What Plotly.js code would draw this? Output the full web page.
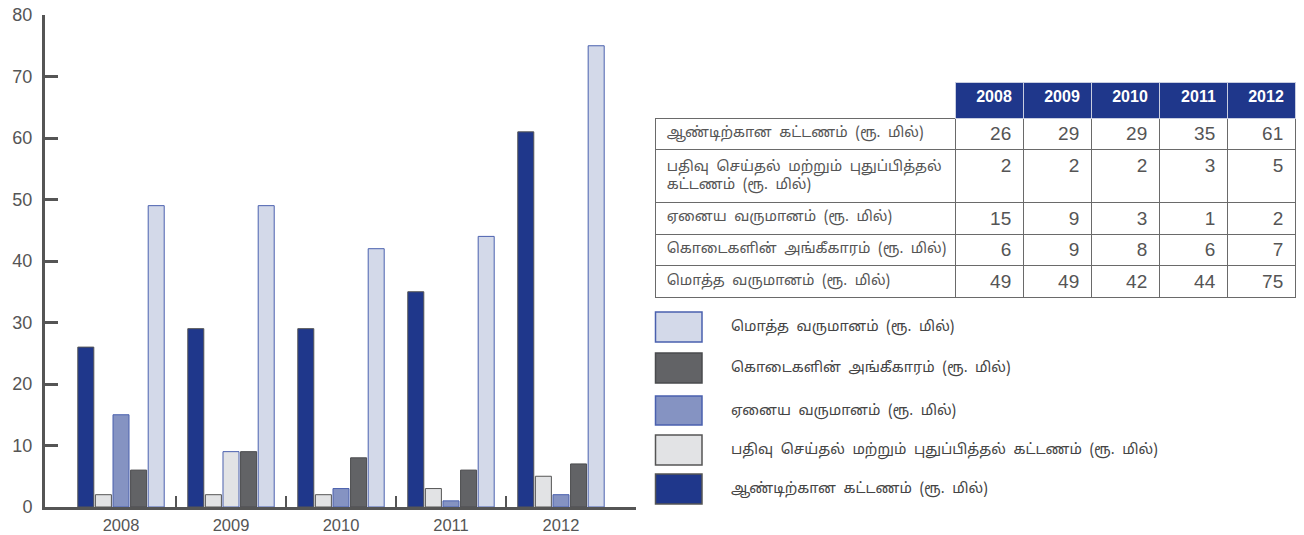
<!DOCTYPE html>
<html>
<head>
<meta charset="utf-8">
<script src="https://cdn.plot.ly/plotly-3.0.1.min.js"></script>
<style>html,body{margin:0;padding:0;background:#fff;}#chart{width:1304px;height:535px;}</style>
</head>
<body>
<div id="chart"></div>
<script>
// ---- data ----
var years = ['2008', '2009', '2010', '2011', '2012'];
var annualFee = [26, 29, 29, 35, 61];
var registrationFee = [2, 2, 2, 3, 5];
var otherIncome = [15, 9, 3, 1, 2];
var grants = [6, 9, 8, 6, 7];
var totalIncome = [49, 49, 42, 44, 75];
var seriesNames = [
  'ஆண்டிற்கான கட்டணம் (ரூ. மில்)',
  'பதிவு செய்தல் மற்றும் புதுப்பித்தல் கட்டணம் (ரூ. மில்)',
  'ஏனைய வருமானம் (ரூ. மில்)',
  'கொடைகளின் அங்கீகாரம் (ரூ. மில்)',
  'மொத்த வருமானம் (ரூ. மில்)'
];
var tableLabels = [
  'ஆண்டிற்கான கட்டணம் (ரூ. மில்)',
  'பதிவு செய்தல் மற்றும் புதுப்பித்தல்<br>கட்டணம் (ரூ. மில்)',
  'ஏனைய வருமானம் (ரூ. மில்)',
  'கொடைகளின் அங்கீகாரம் (ரூ. மில்)',
  'மொத்த வருமானம் (ரூ. மில்)'
];

// ---- styles ----
var NAVY = '#1f378b', LGREY = '#e2e3e5', MBLUE = '#8593c2', DGREY = '#626366', LAV = '#d3d9e9';
var BLUE_LINE = '#4a60ae', GREY_LINE = '#555555', DARK_LINE = '#4a4b4e';
var TAMIL = '"Noto Sans Tamil", "Noto Sans", "DejaVu Sans", sans-serif';
var NUMF = '"Liberation Sans", Arial, sans-serif';

var W = 1304, H = 535;
var M = {l: 45, r: 9, t: 15, b: 28};
var PW = W - M.l - M.r, PH = H - M.t - M.b;
function px(x) { return (x - M.l) / PW; }
function py(y) { return (H - M.b - y) / PH; }
// wider word spacing as in the source typesetting
function wide(s) { return s.split(' ').join('\u00a0\u00a0'); }

var xIdx = years.map(function (_, i) { return i; });
var seriesData = [annualFee, registrationFee, otherIncome, grants, totalIncome];
var fills = [NAVY, LGREY, MBLUE, DGREY, LAV];
var lines = [GREY_LINE, GREY_LINE, BLUE_LINE, DARK_LINE, BLUE_LINE];
// the 2009 "other income" bar is drawn in light grey in the source
var otherFill = years.map(function (y) { return y === '2009' ? LGREY : MBLUE; });

var traces = seriesData.map(function (vals, k) {
  return {
    type: 'bar', x: xIdx, y: vals, name: seriesNames[k], showlegend: false,
    marker: {color: k === 2 ? otherFill : fills[k], line: {color: lines[k], width: 1}},
    hoverinfo: 'y'
  };
});
// carrier trace so the boundary-tick axis is drawn
traces.push({type: 'scatter', mode: 'none', x: xIdx, y: annualFee, xaxis: 'x2', yaxis: 'y', showlegend: false, hoverinfo: 'skip'});

// table
var tableCols = [tableLabels.map(function (s) {
  return s.split('<br>').map(function (l) { return '\u00a0' + wide(l); }).join('<br>');
})].concat(years.map(function (_, i) {
  return seriesData.map(function (s) { return String(s[i]) + '\u2009'; });
}));
traces.push({
  type: 'table',
  domain: {x: [px(655), 1], y: [py(302), py(82)]},
  columnwidth: [300, 68, 68, 68, 68, 68],
  header: {
    values: [''].concat(years.map(function (y) { return y + '\u2009'; })),
    height: 36,
    fill: {color: ['rgba(0,0,0,0)', NAVY, NAVY, NAVY, NAVY, NAVY]},
    line: {color: ['rgba(0,0,0,0)', '#c8cde0', '#c8cde0', '#c8cde0', '#c8cde0', '#c8cde0'], width: 1},
    align: ['left', 'right', 'right', 'right', 'right', 'right'],
    font: {family: '"Liberation Sans Narrow", "Liberation Sans", Arial, sans-serif', size: 16, color: '#ffffff', weight: 'bold'}
  },
  cells: {
    values: tableCols,
    height: 31.6,
    fill: {color: '#ffffff'},
    line: {color: '#6a6a6a', width: 1},
    align: ['left', 'right', 'right', 'right', 'right', 'right'],
    font: {family: [TAMIL, NUMF, NUMF, NUMF, NUMF, NUMF], size: [14.5, 19, 19, 19, 19, 19], color: '#555555'}
  }
});

// custom legend (reverse order, large swatches)
var legendRows = [
  {k: 4, y0: 312, y1: 342},
  {k: 3, y0: 353, y1: 383},
  {k: 2, y0: 396, y1: 425},
  {k: 1, y0: 435, y1: 465},
  {k: 0, y0: 474, y1: 504}
];
var shapes = [], annotations = [];
legendRows.forEach(function (r) {
  shapes.push({type: 'rect', xref: 'paper', yref: 'paper',
    x0: px(655.5), x1: px(702), y0: py(r.y1), y1: py(r.y0),
    fillcolor: fills[r.k], line: {color: lines[r.k], width: 1.5}});
  annotations.push({xref: 'paper', yref: 'paper', x: px(729), y: py((r.y0 + r.y1) / 2),
    xanchor: 'left', yanchor: 'middle', showarrow: false, text: wide(seriesNames[r.k]),
    font: {family: TAMIL, size: 14.5, color: '#444444'}});
});

var layout = {
  width: W, height: H, margin: M,
  paper_bgcolor: '#ffffff', plot_bgcolor: '#ffffff',
  barmode: 'group', bargap: 0.2, bargroupgap: 0.09,
  showlegend: false,
  xaxis: {
    domain: [0, px(636)], range: [-0.691, 4.682], tickvals: xIdx, ticktext: years,
    ticks: '', showgrid: false, zeroline: false, showline: true, linecolor: '#555555', linewidth: 2.5,
    tickfont: {family: NUMF, size: 16.5, color: '#555555'}, ticklabelstandoff: 2, fixedrange: true
  },
  xaxis2: {
    domain: [0, px(636)], range: [-0.691, 4.682], overlaying: 'x', anchor: 'y', side: 'bottom',
    tickvals: [0.5, 1.5, 2.5, 3.5, 4.682], ticktext: ['', '', '', '', ''], ticks: 'inside', ticklen: 11, tickwidth: 2.5, tickcolor: '#555555',
    showticklabels: false, showgrid: false, zeroline: false, showline: false, fixedrange: true
  },
  yaxis: {
    domain: [0, 1], range: [0, 80], dtick: 10, tick0: 0, ticks: 'inside', ticklen: 13, tickwidth: 3,
    tickcolor: '#555555', showline: true, linecolor: '#555555', linewidth: 3, showgrid: false, zeroline: false,
    tickfont: {family: NUMF, size: 18, color: '#555555'}, ticklabelstandoff: 6, fixedrange: true
  },
  shapes: shapes,
  annotations: annotations
};

Plotly.newPlot('chart', traces, layout, {displayModeBar: false, staticPlot: true});
</script>
</body>
</html>
